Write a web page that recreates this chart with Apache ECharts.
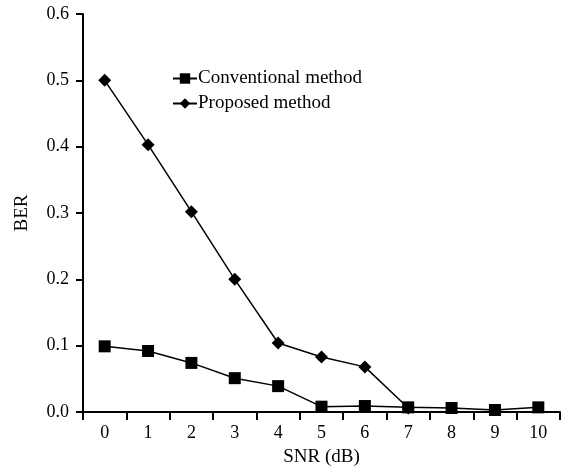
<!DOCTYPE html>
<html>
<head>
<meta charset="utf-8">
<script src="https://cdn.jsdelivr.net/npm/echarts@6/dist/echarts.min.js"></script>
<style>
  html, body { margin: 0; padding: 0; background: #fff; }
  #chart { width: 562px; height: 472px; }
</style>
</head>
<body>
<div id="chart"></div>
<script>
const snrLabels = ['0', '1', '2', '3', '4', '5', '6', '7', '8', '9', '10']
const conventional = [0.099, 0.092, 0.074, 0.051, 0.039, 0.008, 0.009, 0.007, 0.006, 0.003, 0.007]
const proposed = [0.5, 0.403, 0.302, 0.2, 0.104, 0.083, 0.068, 0.006]
const yTicks = [0, 0.1, 0.2, 0.3, 0.4, 0.5, 0.6]

const font = 'Liberation Serif, Times New Roman, serif'
const chart = echarts.init(document.getElementById('chart'), null, { renderer: 'canvas' })

chart.setOption({
  animation: false,
  backgroundColor: '#fff',
  textStyle: { fontFamily: font, color: '#000' },
  grid: { left: 83, right: 2, top: 14, bottom: 59 },
  legend: {
    left: 167,
    top: 64,
    orient: 'vertical',
    itemGap: 6,
    itemWidth: 24,
    itemHeight: 13,
    textStyle: { fontFamily: font, fontSize: 19, color: '#000', padding: [0, 0, 0, -4] },
    data: ['Conventional method', 'Proposed method'],
  },
  xAxis: {
    type: 'category',
    data: snrLabels,
    boundaryGap: true,
    name: 'SNR (dB)',
    nameLocation: 'middle',
    nameGap: 36,
    nameTextStyle: { fontFamily: font, fontSize: 19, color: '#000' },
    axisLine: { lineStyle: { color: '#000', width: 2 } },
    axisTick: { show: true, length: 8, lineStyle: { color: '#000', width: 2 } },
    axisLabel: { fontFamily: font, fontSize: 18, color: '#000', margin: 12 },
    splitLine: { show: false },
  },
  yAxis: {
    type: 'value',
    min: 0,
    max: 0.6,
    interval: 0.1,
    name: 'BER',
    nameLocation: 'middle',
    nameGap: 51,
    nameRotate: 90,
    nameTextStyle: { fontFamily: font, fontSize: 19, color: '#000' },
    axisLine: { show: true, lineStyle: { color: '#000', width: 2 } },
    axisTick: { show: true, length: 7, lineStyle: { color: '#000', width: 2 } },
    axisLabel: {
      fontFamily: font,
      fontSize: 18,
      color: '#000',
      margin: 14,
      formatter: (v) => (yTicks.includes(Math.round(v * 10) / 10) ? v.toFixed(1) : ''),
    },
    splitLine: { show: false },
  },
  series: [
    {
      name: 'Conventional method',
      type: 'line',
      data: conventional,
      symbol: 'rect',
      symbolSize: 12,
      itemStyle: { color: '#000' },
      lineStyle: { color: '#000', width: 1.5 },
      z: 3,
    },
    {
      name: 'Proposed method',
      type: 'line',
      data: proposed,
      symbol: 'diamond',
      symbolSize: 13,
      itemStyle: { color: '#000' },
      lineStyle: { color: '#000', width: 1.5 },
      z: 2,
    },
  ],
})
</script>
</body>
</html>
